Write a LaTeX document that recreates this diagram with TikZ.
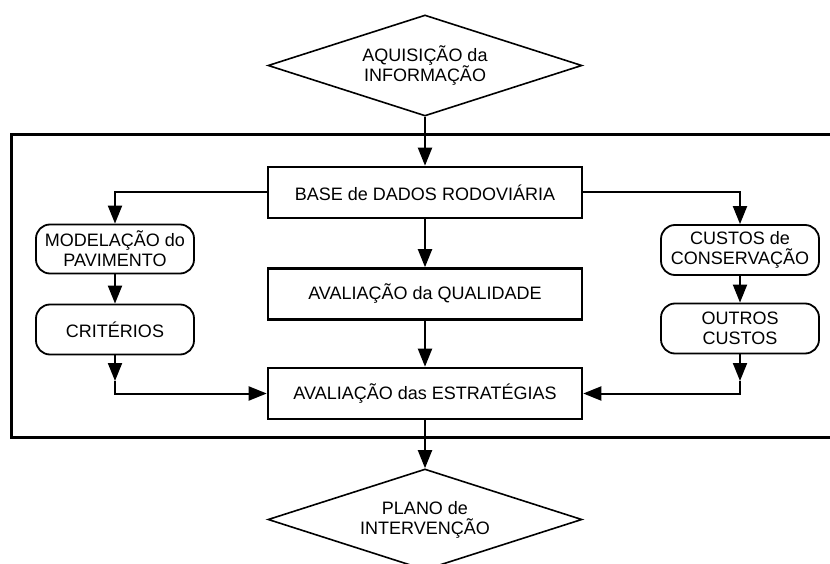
\documentclass[tikz,border=0pt]{standalone}
\usepackage{fontspec}
\setmainfont{Liberation Sans}
\usetikzlibrary{shapes.geometric,arrows.meta}

\begin{document}
\begin{tikzpicture}[x=1pt, y=-1pt,
		txt/.style = {font=\fontsize{18}{20}\selectfont, align=center, inner sep=0pt},
		box/.style = {txt, draw, line width=2.6pt, minimum width=314pt, minimum height=51pt},
		soft/.style = {txt, draw, line width=1.8pt, rounded corners=14pt, minimum width=158pt, minimum height=49pt},
		decide/.style = {txt, draw, line width=1.6pt, diamond, shape aspect=3.1, minimum width=314pt, minimum height=101pt},
		arr/.style = {line width=2pt, -{Triangle[length=18pt, width=14pt]}},
		link/.style = {line width=2pt}]
				\clip (0,0) rectangle (830,564);
				\fill[white] (0,0) rectangle (830,564);
				\draw[line width=3pt] (11,135) rectangle (850,437);
				\node[decide] (aqui) at (425,65.5) {AQUISIÇÃO da\\INFORMAÇÃO};
				\node[box, fill=white] (base) at (425,192.5) {BASE de DADOS RODOVIÁRIA};
				\node[box] (qual) at (425,294) {AVALIAÇÃO da QUALIDADE};
				\node[box] (estr) at (425,393.5) {AVALIAÇÃO das ESTRATÉGIAS};
				\node[decide] (plano) at (425,519.5) {PLANO de\\INTERVENÇÃO};
				\node[soft] (model) at (115,249) {MODELAÇÃO do\\PAVIMENTO};
				\node[soft, minimum height=50pt] (crit) at (115,329.5) {CRITÉRIOS};
				\node[soft, minimum height=50pt] (custos) at (740,250) {CUSTOS de\\CONSERVAÇÃO};
				\node[soft, minimum height=50pt] (outros) at (740,328.5) {OUTROS\\CUSTOS};
				\coordinate (cl) at (115,381);
				\coordinate (cr) at (740,381);
				\draw[arr] (aqui.south) -- (base.north);
				\draw[arr] (base.west) -| (model.north);
				\draw[arr] (base.east) -| (custos.north);
				\draw[arr] (model) -- (crit);
				\draw[arr] (custos) -- (outros);
				\draw[arr] (base) -- (qual);
				\draw[arr] (qual) -- (estr);
				\draw[arr] (estr) -- (plano);
				\draw[arr] (crit) -- (cl);
				\draw[arr] (cl) |- (estr.west);
				\draw[arr] (outros) -- (cr);
				\draw[arr] (cr) |- (estr.east);
			\end{tikzpicture}
\end{document}
